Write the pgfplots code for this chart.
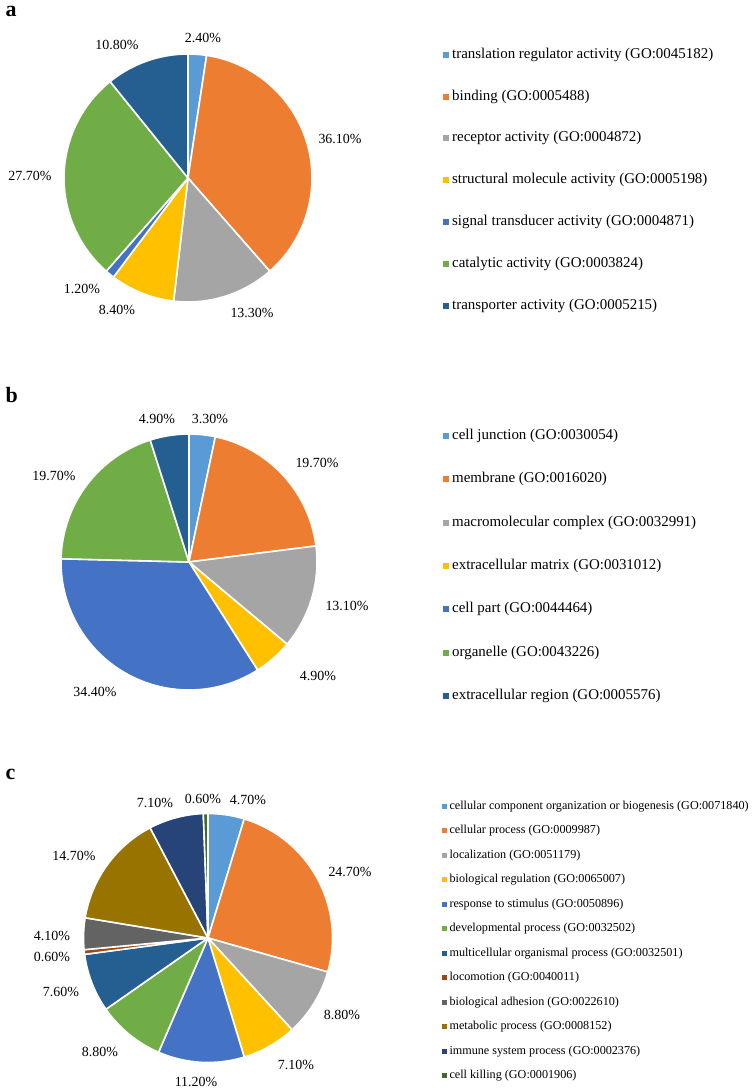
\documentclass[border=0pt]{standalone}
\usepackage{fontspec}
\setmainfont{Liberation Serif}
\usepackage{pgfplots}
\usepackage{pgfplotstable}
\pgfplotsset{compat=1.18}

\definecolor{c1}{HTML}{5B9BD5}
\definecolor{c2}{HTML}{ED7D31}
\definecolor{c3}{HTML}{A5A5A5}
\definecolor{c4}{HTML}{FFC000}
\definecolor{c5}{HTML}{4472C4}
\definecolor{c6}{HTML}{70AD47}
\definecolor{c7}{HTML}{255E91}
\definecolor{c8}{HTML}{9E480E}
\definecolor{c9}{HTML}{636363}
\definecolor{c10}{HTML}{997300}
\definecolor{c11}{HTML}{264478}
\definecolor{c12}{HTML}{43682B}

% pct = share, col = slice colour, lx/ly = label centre (pixels from top left)
\pgfplotstableread{
pct col lx ly
2.4 c1 203 38
36.1 c2 340 139
13.3 c3 252 313
8.4 c4 117 310
1.2 c5 82 289
27.7 c6 30 176
10.8 c7 117 45
}\dataA

\pgfplotstableread{
pct col lx ly
3.3 c1 210 419
19.7 c2 317 463
13.1 c3 347 606
4.9 c4 318 676
34.4 c5 95 692
19.7 c6 54 476
4.9 c7 157 419
}\dataB

\pgfplotstableread{
pct col lx ly
4.7 c1 248 800
24.7 c2 350 872
8.8 c3 342 1015
7.1 c4 296 1065
11.2 c5 196 1082
8.8 c6 100 1052
7.6 c7 61 992
0.6 c8 52 957
4.1 c9 52 936
14.7 c10 74 856
7.1 c11 155 803
0.6 c12 203 799
}\dataC

\newcommand{\pielabelfont}{\fontsize{14}{16}\selectfont}

% #1 table, #2/#3 centre (pixels), #4 radius
\newcommand{\drawpie}[4]{%
  \pgfplotstablegetrowsof{#1}%
  \pgfmathtruncatemacro{\lastrow}{\pgfplotsretval-1}%
  \gdef\pietotal{0}%
  \foreach \i in {0,...,\lastrow}{%
    \pgfplotstablegetelem{\i}{pct}\of{#1}%
    \pgfmathparse{\pietotal+\pgfplotsretval}\xdef\pietotal{\pgfmathresult}%
  }%
  \gdef\pieang{90}%
  \foreach \i in {0,...,\lastrow}{%
    \pgfplotstablegetelem{\i}{pct}\of{#1}\let\slicepct\pgfplotsretval
    \pgfplotstablegetelem{\i}{col}\of{#1}\let\slicecol\pgfplotsretval
    \pgfplotstablegetelem{\i}{lx}\of{#1}\let\slicelx\pgfplotsretval
    \pgfplotstablegetelem{\i}{ly}\of{#1}\let\slicely\pgfplotsretval
    \pgfmathsetmacro{\pieend}{\pieang-360*\slicepct/\pietotal}%
    \filldraw[fill=\slicecol, draw=white, line width=1.6bp, line join=round]
      (axis cs:#2,-#3) -- +(\pieang:#4bp)
      arc[start angle=\pieang, end angle=\pieend, radius=#4bp] -- cycle;
    \node[font=\pielabelfont] at (axis cs:\slicelx,-\slicely)
      {\pgfmathprintnumber[fixed,fixed zerofill,precision=2,assume math mode=true]{\slicepct}\%};
    \xdef\pieang{\pieend}%
  }%
}

\pgfplotsset{
  pieaxis/.style={
    x=1bp, y=1bp, xmin=0, xmax=756, ymin=-1088, ymax=0,
    hide axis, clip=false, at={(0,0)}, anchor=south west,
    legend cell align=left,
    legend image code/.code={\fill[##1, draw=none] (0bp,-3bp) rectangle (6bp,3bp);},
  },
}

\begin{document}
\begin{tikzpicture}
\path[use as bounding box] (0,0) rectangle (756bp,1088bp);

% a: molecular function
\begin{axis}[pieaxis,
  legend style={at={(0.582,0.9586)}, anchor=north west, draw=none, fill=none,
    font=\fontsize{15}{18}\selectfont, row sep=26.8bp, column sep=3bp,
    nodes={inner sep=0pt, text height=11bp, text depth=4bp}},
]
\addlegendimage{fill=c1}\addlegendentry{translation regulator activity (GO:0045182)}
\addlegendimage{fill=c2}\addlegendentry{binding (GO:0005488)}
\addlegendimage{fill=c3}\addlegendentry{receptor activity (GO:0004872)}
\addlegendimage{fill=c4}\addlegendentry{structural molecule activity (GO:0005198)}
\addlegendimage{fill=c5}\addlegendentry{signal transducer activity (GO:0004871)}
\addlegendimage{fill=c6}\addlegendentry{catalytic activity (GO:0003824)}
\addlegendimage{fill=c7}\addlegendentry{transporter activity (GO:0005215)}
\pgfplotsextra{\drawpie{\dataA}{188}{178}{124}}
\node[anchor=base west, font=\fontsize{22}{26}\selectfont\bfseries] at (axis cs:2,-17) {a};
\end{axis}

% b: cellular component
\begin{axis}[pieaxis,
  legend style={at={(0.582,0.6084)}, anchor=north west, draw=none, fill=none,
    font=\fontsize{15}{18}\selectfont, row sep=28.4bp, column sep=3bp,
    nodes={inner sep=0pt, text height=11bp, text depth=4bp}},
]
\addlegendimage{fill=c1}\addlegendentry{cell junction (GO:0030054)}
\addlegendimage{fill=c2}\addlegendentry{membrane (GO:0016020)}
\addlegendimage{fill=c3}\addlegendentry{macromolecular complex (GO:0032991)}
\addlegendimage{fill=c4}\addlegendentry{extracellular matrix (GO:0031012)}
\addlegendimage{fill=c5}\addlegendentry{cell part (GO:0044464)}
\addlegendimage{fill=c6}\addlegendentry{organelle (GO:0043226)}
\addlegendimage{fill=c7}\addlegendentry{extracellular region (GO:0005576)}
\pgfplotsextra{\drawpie{\dataB}{189}{562}{128}}
\node[anchor=base west, font=\fontsize{22}{26}\selectfont\bfseries] at (axis cs:2,-403) {b};
\end{axis}

% c: biological process
\begin{axis}[pieaxis,
  legend style={at={(0.5805,0.2665)}, anchor=north west, draw=none, fill=none,
    font=\fontsize{12.2}{15}\selectfont, row sep=12.2bp, column sep=2.5bp,
    nodes={inner sep=0pt, text height=9bp, text depth=3.3bp}},
  legend image code/.code={\fill[#1, draw=none] (0bp,-2.5bp) rectangle (5bp,2.5bp);},
]
\addlegendimage{fill=c1}\addlegendentry{cellular component organization or biogenesis (GO:0071840)}
\addlegendimage{fill=c2}\addlegendentry{cellular process (GO:0009987)}
\addlegendimage{fill=c3}\addlegendentry{localization (GO:0051179)}
\addlegendimage{fill=c4}\addlegendentry{biological regulation (GO:0065007)}
\addlegendimage{fill=c5}\addlegendentry{response to stimulus (GO:0050896)}
\addlegendimage{fill=c6}\addlegendentry{developmental process (GO:0032502)}
\addlegendimage{fill=c7}\addlegendentry{multicellular organismal process (GO:0032501)}
\addlegendimage{fill=c8}\addlegendentry{locomotion (GO:0040011)}
\addlegendimage{fill=c9}\addlegendentry{biological adhesion (GO:0022610)}
\addlegendimage{fill=c10}\addlegendentry{metabolic process (GO:0008152)}
\addlegendimage{fill=c11}\addlegendentry{immune system process (GO:0002376)}
\addlegendimage{fill=c12}\addlegendentry{cell killing (GO:0001906)}
\pgfplotsextra{\drawpie{\dataC}{208}{938}{124.5}}
\node[anchor=base west, font=\fontsize{22}{26}\selectfont\bfseries] at (axis cs:2,-780) {c};
\end{axis}
\end{tikzpicture}
\end{document}
